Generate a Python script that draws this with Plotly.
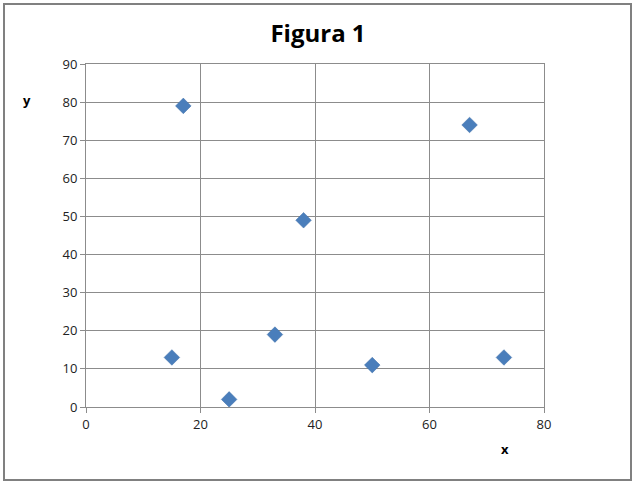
import plotly.graph_objects as go

x_vals = [15, 17, 25, 33, 38, 50, 67, 73]
y_vals = [13, 79, 2, 19, 49, 11, 74, 13]
title_text = "Figura 1"
x_label = "x"
y_label = "y"

FONT = "Open Sans, Liberation Sans, Arial"

fig = go.Figure()
fig.add_trace(go.Scatter(
    x=x_vals, y=y_vals, mode="markers",
    marker=dict(symbol="diamond", size=12, color="#4A7EBB",
                line=dict(color="#3F6FA8", width=0.5)),
    showlegend=False,
))

axis_common = dict(
    showgrid=True, gridcolor="#8C8C8C", gridwidth=1,
    showline=True, linecolor="#8C8C8C", linewidth=1, mirror=True,
    ticks="outside", ticklen=5, tickcolor="#8C8C8C",
    zeroline=False,
    tickfont=dict(family=FONT, size=13, color="#222"),
)

fig.update_layout(
    width=636, height=483,
    margin=dict(l=86, r=92, t=64, b=76),
    paper_bgcolor="white", plot_bgcolor="white",
    title=dict(text="<b>" + title_text + "</b>", x=0.5, xanchor="center",
               y=1 - 34/483, yanchor="middle",
               font=dict(family=FONT, size=24, color="#000")),
    xaxis=dict(range=[0, 80], dtick=20, **axis_common),
    yaxis=dict(range=[0, 90], dtick=10, **axis_common),
    annotations=[
        dict(text="<b>" + y_label + "</b>", xref="paper", yref="paper",
             x=(27 - 86) / 458, y=(407 - 100) / 343, showarrow=False,
             xanchor="center", yanchor="middle",
             font=dict(family=FONT, size=13, color="#000")),
        dict(text="<b>" + x_label + "</b>", xref="paper", yref="paper",
             x=(505 - 86) / 458, y=(407 - 449) / 343, showarrow=False,
             xanchor="center", yanchor="middle",
             font=dict(family=FONT, size=13, color="#000")),
    ],
    shapes=[
        dict(type="rect", xref="paper", yref="paper",
             x0=(4 - 86) / 458, x1=(631 - 86) / 458,
             y0=(407 - 480) / 343, y1=(407 - 4) / 343,
             line=dict(color="#808080", width=2), layer="below"),
    ],
)

fig.write_html("out.html", config={"displayModeBar": False},
               post_script="document.body.style.margin='0';document.body.style.overflow='hidden';")
